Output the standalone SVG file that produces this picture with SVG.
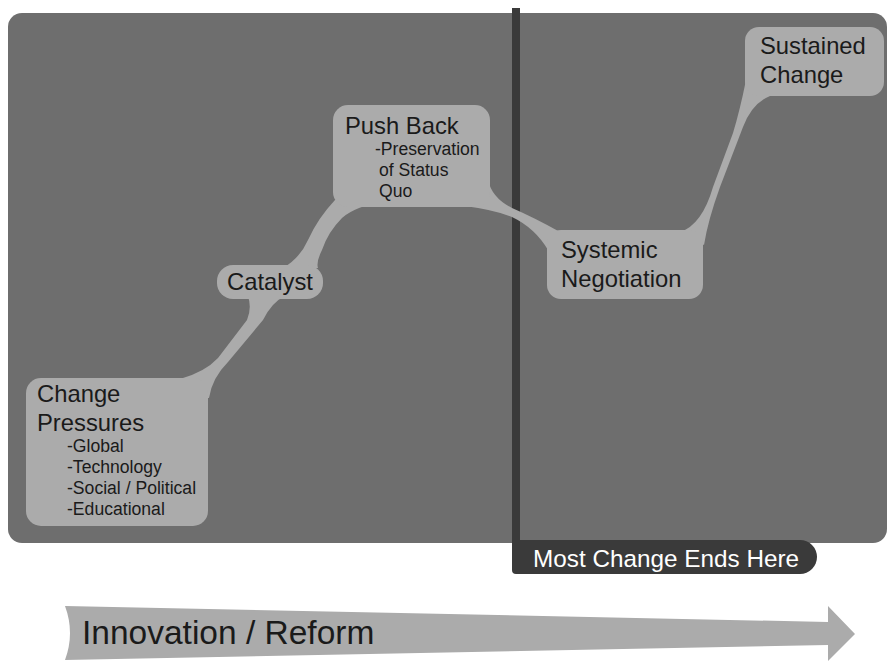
<svg xmlns="http://www.w3.org/2000/svg" width="889" height="661" viewBox="0 0 889 661">
<style>
.node{fill:#ababab}
.conn{fill:#ababab}
.t{font-family:"Liberation Sans",Arial,sans-serif;fill:#1a1a1a;font-size:23.8px}
.small{font-size:17.6px}
</style>
<rect x="0" y="0" width="889" height="661" fill="#ffffff"/>
<rect id="panel" x="8" y="13" width="879" height="530" rx="14" fill="#6e6e6e"/>
<g id="divider">
<rect x="512" y="8" width="8" height="540" fill="#3a3a3a"/>
<path d="M512 540 L800 540 A17 17 0 0 1 800 574 L516 574 Q512 574 512 570 Z" fill="#3a3a3a"/>
<text x="533" y="567" font-family="'Liberation Sans',Arial,sans-serif" font-size="24.3" fill="#ffffff">Most Change Ends Here</text>
</g>
<g id="connectors">
<path class="conn" d="M180 379 Q205 372 218 358 L247 320 Q252 308 248 296 L285 296 Q272 302 263 320 L228 362 Q212 378 209 398 L200 398 Z"/>
<path class="conn" d="M283 268 Q300 258 308 240 Q318 218 335 200 L390 200 Q355 206 342 218 Q328 232 322 250 Q316 262 318 268 Z"/>
<path class="conn" d="M488 180 Q492 198 512 208 Q535 218 560 232 L548 250 Q535 228 512 217 Q495 210 465 206 Z"/>
<path class="conn" d="M680 232 Q702 225 713 187 L733 133 Q740 110 746 80 L770 96 Q752 103 743 127 L720 187 Q708 220 704 245 Z"/>
</g>
<g id="change-pressures">
<rect class="node" x="26" y="378" width="182" height="148" rx="15"/>
<text class="t"><tspan x="37" y="402">Change</tspan><tspan x="37" y="431">Pressures</tspan><tspan class="small" x="67" y="452">-Global</tspan><tspan class="small" x="67" y="473">-Technology</tspan><tspan class="small" x="67" y="494">-Social / Political</tspan><tspan class="small" x="67" y="515">-Educational</tspan></text>
</g>
<g id="catalyst">
<rect class="node" x="217" y="265" width="106" height="34" rx="16"/>
<text class="t" x="227" y="290">Catalyst</text>
</g>
<g id="push-back">
<rect class="node" x="333" y="105" width="157" height="102" rx="15"/>
<text class="t"><tspan x="345" y="134">Push Back</tspan><tspan class="small" x="375" y="155">-Preservation</tspan><tspan class="small" x="379" y="176">of Status</tspan><tspan class="small" x="379" y="197">Quo</tspan></text>
</g>
<g id="systemic-negotiation">
<rect class="node" x="547" y="230" width="156" height="69" rx="14"/>
<text class="t"><tspan x="561" y="258">Systemic</tspan><tspan x="561" y="287">Negotiation</tspan></text>
</g>
<g id="sustained-change">
<rect class="node" x="745" y="27" width="139" height="69" rx="14"/>
<text class="t"><tspan x="760" y="54">Sustained</tspan><tspan x="760" y="83">Change</tspan></text>
</g>
<g id="innovation-arrow">
<path d="M65 606 L828 622 L828 606 L855 634 L828 661 L828 645 L65 660 Q75 633 65 606 Z" fill="#ababab"/>
<text x="82" y="644" font-family="'Liberation Sans',Arial,sans-serif" font-size="33.5" fill="#1a1a1a">Innovation / Reform</text>
</g>
</svg>
